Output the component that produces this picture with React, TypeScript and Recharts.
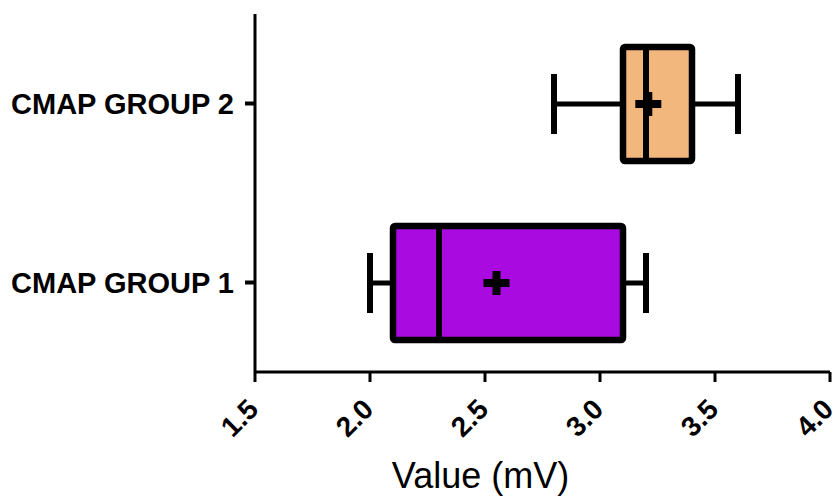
import React from "react";
import { ComposedChart, Bar, XAxis, YAxis, Label } from "recharts";

const categories = ["CMAP GROUP 2", "CMAP GROUP 1"];
const whiskerLow = [2.8, 2.0];
const q1 = [3.1, 2.1];
const median = [3.2, 2.3];
const q3 = [3.4, 3.1];
const whiskerHigh = [3.6, 3.2];
const means = [3.21, 2.55];
const fills = ["#F2B77C", "#A90ADF"];
const xTicks = [1.5, 2.0, 2.5, 3.0, 3.5, 4.0];

const data = categories.map((name, i) => ({
  name,
  box: [q1[i], q3[i]],
  lo: whiskerLow[i],
  q1: q1[i],
  med: median[i],
  q3: q3[i],
  hi: whiskerHigh[i],
  mean: means[i],
  fill: fills[i],
}));

const FONT = "Arial, 'Liberation Sans', sans-serif";

const BoxShape = (props: any) => {
  const { x, y, width, height, payload } = props;
  const p = payload;
  const ppu = width / (p.q3 - p.q1);
  const px = (v: number) => x + (v - p.q1) * ppu;
  const cy = y + height / 2;
  const capH = 60;
  const sw = 6.5;
  const xl = px(p.lo);
  const xh = px(p.hi);
  const xm = px(p.med);
  const xmean = px(p.mean);
  return (
    <g>
      <line x1={xl} x2={x} y1={cy} y2={cy} stroke="#000" strokeWidth={5} />
      <line x1={x + width} x2={xh} y1={cy} y2={cy} stroke="#000" strokeWidth={5} />
      <line x1={xl} x2={xl} y1={cy - capH / 2} y2={cy + capH / 2} stroke="#000" strokeWidth={6} />
      <line x1={xh} x2={xh} y1={cy - capH / 2} y2={cy + capH / 2} stroke="#000" strokeWidth={6} />
      <rect x={x} y={y} width={width} height={height} fill={p.fill} stroke="#000" strokeWidth={sw} rx={2} ry={2} />
      <line x1={xm} x2={xm} y1={y} y2={y + height} stroke="#000" strokeWidth={6} />
      <rect x={xmean - 13} y={cy - 4} width={26} height={8} fill="#000" />
      <rect x={xmean - 4} y={cy - 12} width={8} height={24} fill="#000" />
    </g>
  );
};

const XTick = (props: any) => {
  const { x, y, payload } = props;
  return (
    <g transform={`translate(${x + 5},${y + 27})`}>
      <text
        textAnchor="end"
        transform="rotate(-45)"
        fontFamily={FONT}
        fontWeight="bold"
        fontSize={28}
        fill="#000"
      >
        {Number(payload.value).toFixed(1)}
      </text>
    </g>
  );
};

export default function App() {
  return (
    <div style={{ position: "absolute", left: 0, top: 0, background: "#fff" }}>
      <ComposedChart
        width={833}
        height={498}
        data={data}
        layout="vertical"
        margin={{ top: 14, right: 3, left: 0, bottom: 0 }}
      >
        <XAxis
          type="number"
          domain={[1.5, 4]}
          ticks={xTicks}
          allowDataOverflow
          height={126}
          axisLine={{ stroke: "#000", strokeWidth: 3 }}
          tickLine={{ stroke: "#000", strokeWidth: 3 }}
          tickSize={10}
          tick={<XTick />}
          interval={0}
        >
          <Label
            content={(lp: any) => {
              const vb = lp.viewBox;
              return (
                <text
                  x={vb.x + vb.width / 2 - 62}
                  y={488}
                  textAnchor="middle"
                  fontFamily={FONT}
                  fontSize={36}
                  fill="#000"
                >
                  Value (mV)
                </text>
              );
            }}
          />
        </XAxis>
        <YAxis
          type="category"
          dataKey="name"
          width={255}
          axisLine={{ stroke: "#000", strokeWidth: 3 }}
          tickLine={{ stroke: "#000", strokeWidth: 4 }}
          tickSize={10}
          tickMargin={11}
          tick={{ fontFamily: FONT, fontWeight: "bold", fontSize: 29, fill: "#000" }}
        />
        <Bar dataKey="box" barSize={114} shape={<BoxShape />} isAnimationActive={false} />
      </ComposedChart>
    </div>
  );
}
